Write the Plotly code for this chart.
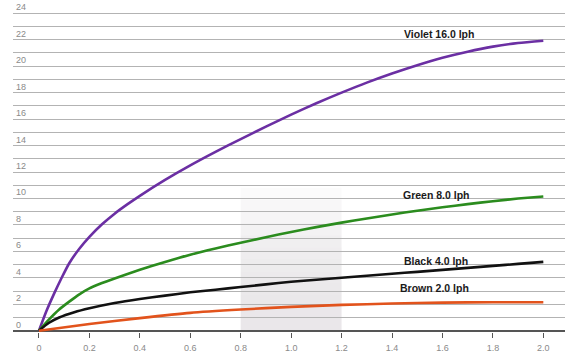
import plotly.graph_objects as go

# Data (flow in x vs value in y)
violet_x = [0, 0.03, 0.06, 0.09, 0.12, 0.16, 0.2, 0.25, 0.3, 0.35, 0.4, 0.5, 0.6, 0.7, 0.8, 0.9, 1.0, 1.1, 1.2, 1.3, 1.4, 1.5, 1.6, 1.7, 1.8, 1.9, 2.0]
violet_y = [0, 1.5, 2.8, 4.0, 5.1, 6.2, 7.1, 8.05, 8.85, 9.55, 10.2, 11.4, 12.5, 13.52, 14.49, 15.43, 16.34, 17.2, 18.0, 18.76, 19.45, 20.08, 20.64, 21.1, 21.48, 21.76, 21.93]

green_x = [0, 0.04, 0.08, 0.12, 0.16, 0.2, 0.25, 0.3, 0.4, 0.5, 0.6, 0.7, 0.8, 0.9, 1.0, 1.1, 1.2, 1.3, 1.4, 1.5, 1.6, 1.7, 1.8, 1.9, 2.0]
green_y = [0, 0.85, 1.6, 2.2, 2.75, 3.2, 3.6, 3.95, 4.6, 5.2, 5.75, 6.22, 6.65, 7.07, 7.47, 7.83, 8.17, 8.49, 8.79, 9.07, 9.33, 9.57, 9.79, 9.99, 10.15]

black_x = [0, 0.04, 0.08, 0.14, 0.2, 0.3, 0.4, 0.5, 0.6, 0.7, 0.8, 0.9, 1.0, 1.1, 1.2, 1.3, 1.4, 1.5, 1.6, 1.7, 1.8, 1.9, 2.0]
black_y = [0, 0.6, 1.0, 1.4, 1.7, 2.1, 2.4, 2.65, 2.9, 3.1, 3.3, 3.5, 3.7, 3.85, 4.0, 4.15, 4.3, 4.45, 4.6, 4.75, 4.9, 5.05, 5.2]

brown_x = [0, 0.2, 0.4, 0.6, 0.8, 1.0, 1.2, 1.4, 1.6, 1.8, 2.0]
brown_y = [0, 0.5, 0.95, 1.35, 1.6, 1.8, 1.95, 2.05, 2.12, 2.15, 2.15]

series_names = ["Violet 16.0 lph", "Green 8.0 lph", "Black 4.0 lph", "Brown 2.0 lph"]
label_x = [1.585, 1.577, 1.573, 1.57]
label_y = [22.45, 10.28, 5.29, 3.25]

x_ticks = [0, 0.2, 0.4, 0.6, 0.8, 1.0, 1.2, 1.4, 1.6, 1.8, 2.0]
x_ticktext = ["0", "0.2", "0.4", "0.6", "0.8", "1.0", "1.2", "1.4", "1.6", "1.8", "2.0"]
y_ticks = list(range(0, 25, 2))

shade_x = [0.8, 1.2]

colors = ["#6b2fa3", "#2b8c1e", "#111111", "#e2531c"]
font_fam = "Liberation Sans, Arial, sans-serif"

fig = go.Figure()

# shaded band with vertical fade
n = 12
top = 10.8
for i in range(n):
    y0 = top * i / n
    y1 = top * (i + 1) / n
    alpha = 0.11 * (1 - (i / n) ** 2)
    fig.add_shape(type="rect", x0=shade_x[0], x1=shade_x[1], y0=y0, y1=y1,
                  xref="x", yref="y", line=dict(width=0),
                  fillcolor=f"rgba(60,40,60,{alpha:.3f})", layer="below")

for xs, ys, c in zip([violet_x, green_x, black_x, brown_x],
                     [violet_y, green_y, black_y, brown_y], colors):
    fig.add_trace(go.Scatter(x=xs, y=ys, mode="lines",
                             line=dict(color=c, width=2.6, shape="spline", smoothing=0.6),
                             showlegend=False, hoverinfo="skip"))

for name, lx, ly in zip(series_names, label_x, label_y):
    fig.add_annotation(x=lx, y=ly, text=f"<b>{name}</b>", showarrow=False,
                       font=dict(family=font_fam, size=10.5, color="#1a1a1a"),
                       xanchor="center", yanchor="middle")

for v in y_ticks:
    fig.add_annotation(x=0.002, xref="paper", y=v, yref="y", text=str(v), showarrow=False,
                       xanchor="left", yanchor="middle", yshift=6,
                       font=dict(family=font_fam, size=9, color="#8a8a8a"))

fig.update_layout(
    width=573, height=361,
    margin=dict(l=13, r=8, t=12, b=29, autoexpand=False),
    paper_bgcolor="white", plot_bgcolor="white",
    xaxis=dict(range=[-0.103, 2.086], tickvals=x_ticks, ticktext=x_ticktext, automargin=False,
               showgrid=False, zeroline=False, showline=False,
               ticks="outside", ticklen=5, tickwidth=1.2, tickcolor="#555",
               ticklabelstandoff=2,
               tickfont=dict(family=font_fam, size=9, color="#8a8a8a")),
    yaxis=dict(range=[-0.1, 24.1], tickvals=y_ticks, showticklabels=False, automargin=False,
               showgrid=True, gridcolor="#b3b3b3", gridwidth=1.4,
               minor=dict(dtick=1, tick0=0, showgrid=True, gridcolor="#b3b3b3", gridwidth=1.4),
               zeroline=True, zerolinecolor="#555", zerolinewidth=1.6),
)

fig.write_html("out.html", config={"displayModeBar": False},
               post_script="document.body.style.margin='0';document.body.style.overflow='hidden';")
